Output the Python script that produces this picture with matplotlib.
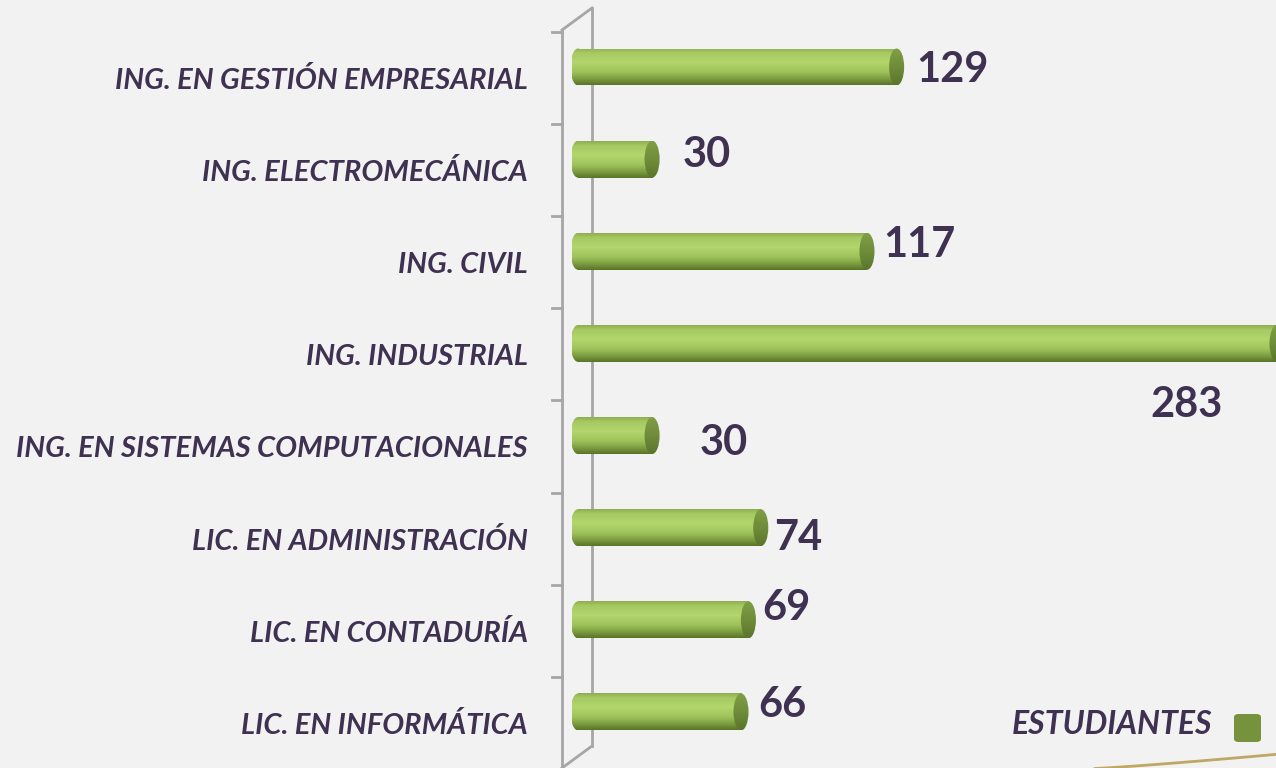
import numpy as np
import matplotlib
matplotlib.use("Agg")
import matplotlib.pyplot as plt
from matplotlib.patches import Rectangle, Ellipse, FancyBboxPatch
from matplotlib.colors import LinearSegmentedColormap
from matplotlib.transforms import ScaledTranslation
from matplotlib.lines import Line2D

categories = ["ING. EN GESTIÓN EMPRESARIAL", "ING. ELECTROMECÁNICA", "ING. CIVIL",
              "ING. INDUSTRIAL", "ING. EN SISTEMAS COMPUTACIONALES",
              "LIC. EN ADMINISTRACIÓN", "LIC. EN CONTADURÍA", "LIC. EN INFORMÁTICA"]
values = [129, 30, 117, 283, 30, 74, 69, 66]
series_name = "ESTUDIANTES"
# value-label offsets from bar end (pixels) as placed in the original
label_dx = [12, 23, 9, -134, 40, 6, 6, 10]
label_dy = [-3, 4, 6, -62, -7, -10, 12, 7]

BG = "#f2f2f2"
TXT = "#3f3151"
W, H = 1276, 768
fig = plt.figure(figsize=(W / 100, H / 100), dpi=100, facecolor=BG)
ax0 = 572
ax = fig.add_axes([ax0 / W, 0, 1 - ax0 / W, 1])
ax.set_facecolor("none")

pxu = 2.47  # px per unit
zero_px = 578
top_c, step = 67, 92.14
xlim = (-(zero_px - ax0) / pxu, (W - zero_px) / pxu)
ylim = ((H - top_c) / step, -top_c / step)

bar_h = 37 / step
cap_w = 15 / pxu

cmap = LinearSegmentedColormap.from_list("cyl", [
    (0.0, "#8fae52"), (0.12, "#a6c963"), (0.38, "#b2d56c"),
    (0.65, "#9fc25a"), (0.85, "#7a9a3e"), (1.0, "#5a7429")])
grad = cmap(np.linspace(0, 1, 64))[:, None, :3]
cap_cmap = LinearSegmentedColormap.from_list("cap", [
    (0.0, "#7f9e45"), (0.5, "#6f8d3a"), (1.0, "#5b752c")])
capgrad = cap_cmap(np.linspace(0, 1, 64))[:, None, :3]

for i, v in enumerate(values):
    y0, y1 = i - bar_h / 2, i + bar_h / 2
    rect = Rectangle((0, y0), v, bar_h, transform=ax.transData)
    im = ax.imshow(grad, extent=[-cap_w, v, y1, y0], aspect="auto",
                   interpolation="bilinear", zorder=2)
    im.set_clip_path(rect)
    lell = Ellipse((0, i), cap_w, bar_h, transform=ax.transData)
    im2 = ax.imshow(grad, extent=[-cap_w, cap_w, y1, y0], aspect="auto",
                    interpolation="bilinear", zorder=2)
    im2.set_clip_path(lell)
    rell = Ellipse((v, i), cap_w, bar_h, transform=ax.transData)
    im3 = ax.imshow(capgrad, extent=[v - cap_w, v + cap_w, y1, y0], aspect="auto",
                    interpolation="bilinear", zorder=3)
    im3.set_clip_path(rell)
    ax.annotate(str(v), xy=(v + cap_w / 2, i), xytext=(label_dx[i], label_dy[i]),
                textcoords="offset pixels", ha="left", va="center",
                fontsize=30, fontweight="bold", color=TXT, family="Lato",
                annotation_clip=False, zorder=5)

ax.set_xlim(*xlim)
ax.set_ylim(*ylim)
ax.set_xticks([])
ax.set_yticks(range(len(categories)))
ax.set_yticklabels(categories, fontsize=21, fontweight="bold", style="italic",
                   color=TXT, family="Lato")
ax.tick_params(axis="y", length=0, pad=44 * 0.72)
for lab in ax.get_yticklabels():
    lab.set_transform(lab.get_transform() + ScaledTranslation(0, -0.11, fig.dpi_scale_trans))
for s in ax.spines.values():
    s.set_visible(False)

# 3D wall (front and back edges) with category boundary ticks
def fy(py):
    return 1 - py / H
wall = "#a6a6a6"
shift = 11
bnd = [ax.transData.transform((0, k - 0.5))[1] for k in range(len(categories))]
fig.add_artist(Line2D([562 / W, 562 / W], [fy(30), fy(768)], color=wall, lw=2, transform=fig.transFigure))
fig.add_artist(Line2D([592 / W, 592 / W], [fy(8), fy(746)], color=wall, lw=2, transform=fig.transFigure, zorder=-1))
fig.add_artist(Line2D([562 / W, 592 / W], [fy(30), fy(8)], color=wall, lw=2, transform=fig.transFigure))
fig.add_artist(Line2D([592 / W, 562 / W], [fy(746), fy(768)], color=wall, lw=2, transform=fig.transFigure))
for b in bnd:
    yy = (b - shift) / H
    fig.add_artist(Line2D([552 / W, 562 / W], [yy, yy], color=wall, lw=2, transform=fig.transFigure))

# legend
fig.text(1212 / W, fy(724), series_name, ha="right", va="center", fontsize=23,
         fontweight="bold", style="italic", color=TXT, family="Lato")
fig.add_artist(FancyBboxPatch((1234 / W, fy(742)), 27 / W, 28 / H,
                              boxstyle="round,pad=0,rounding_size=0.004",
                              fc="#76923c", ec="none", transform=fig.transFigure))

# decorative gold curve
t = np.linspace(0, 1, 50)
cx = 1095 + t * 185
cy = 768.5 - 14.5 * (t ** 1.15)
fig.add_artist(Line2D(cx / W, 1 - cy / H, color="#bfa865", lw=2, transform=fig.transFigure))

fig.savefig("out.png", dpi=100, facecolor=BG)
